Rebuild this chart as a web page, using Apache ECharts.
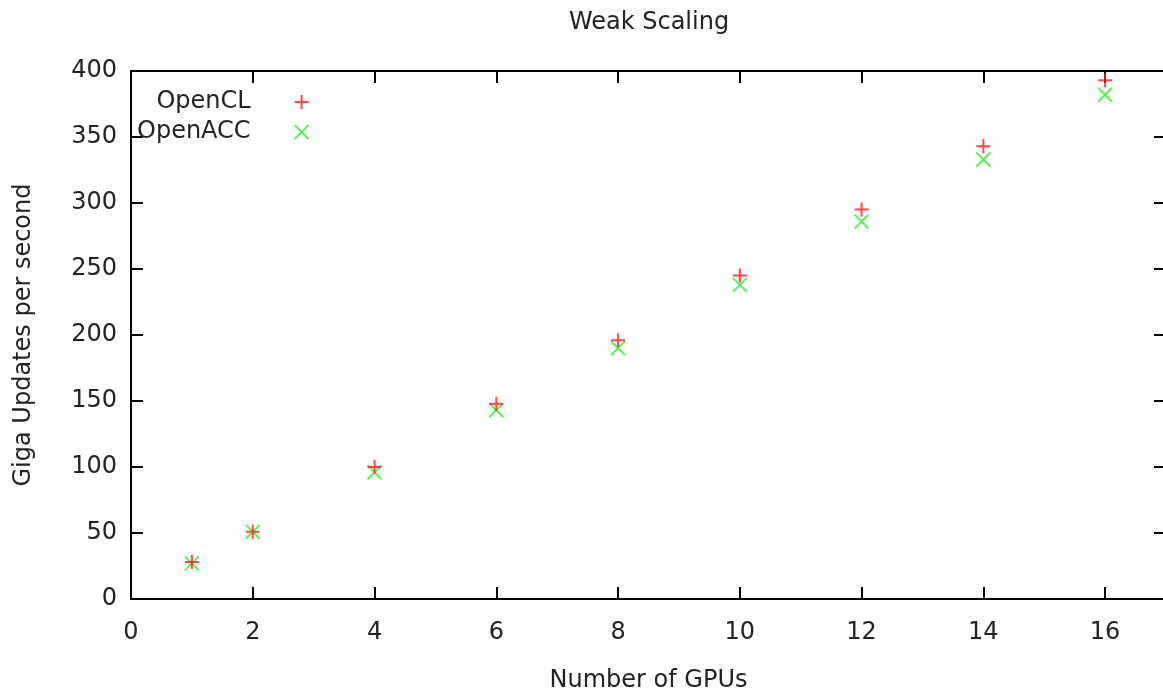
<!DOCTYPE html>
<html>
<head>
<meta charset="utf-8">
<script src="https://cdn.jsdelivr.net/npm/echarts@6/dist/echarts.min.js"></script>
<style>
  html, body { margin: 0; padding: 0; background: #fff; }
  #main { width: 1163px; height: 691px; }
</style>
</head>
<body>
<div id="main"></div>
<script>
// data
const gpus = [1, 2, 4, 6, 8, 10, 12, 14, 16];
const openCL = [28, 51, 100, 148, 196, 245, 295, 343, 393];
const openACC = [27, 51, 96, 143, 190, 238, 286, 333, 382];

const plusPath = 'path://M0,5L10,5M5,0L5,10';
const crossPath = 'path://M0,0L10,10M10,0L0,10';
const font = 'DejaVu Sans';
const fsize = 24;
const red = '#ff1a1a';
const green = '#33ee33';

const chart = echarts.init(document.getElementById('main'));

const pair = (xs, ys) => xs.map((x, i) => [x, ys[i]]);

// shared look of the 4 border axes (gnuplot style, ticks inside on every side)
const axisBase = {
  type: 'value',
  axisLine: { show: true, onZero: false, lineStyle: { color: '#000', width: 2 } },
  axisTick: { show: true, inside: true, length: 12, lineStyle: { color: '#000', width: 2 } },
  splitLine: { show: false },
};

const option = {
  animation: false,
  backgroundColor: '#fff',
  textStyle: { fontFamily: font },
  title: {
    text: 'Weak Scaling',
    left: 644,
    textAlign: 'center',
    top: 6,
    textStyle: { fontFamily: font, fontSize: fsize, fontWeight: 'normal', color: '#222' }
  },
  legend: {
    orient: 'vertical',
    left: 132,
    top: 85,
    align: 'right',
    itemWidth: 92,
    itemHeight: 14,
    itemGap: 6,
    textStyle: { fontFamily: font, fontSize: fsize, color: '#222', width: 120, align: 'right' },
    data: [
      { name: 'OpenCL', icon: plusPath, itemStyle: { color: 'none', borderColor: red, borderWidth: 2 } },
      { name: 'OpenACC', icon: crossPath, itemStyle: { color: 'none', borderColor: green, borderWidth: 2 } }
    ]
  },
  // right border sits just past the picture edge in the original
  grid: { left: 131, right: -3, top: 71, bottom: 92, outerBoundsMode: 'none' },
  xAxis: [
    Object.assign({}, axisBase, {
      position: 'bottom',
      min: 0, max: 17, interval: 2,
      name: 'Number of GPUs',
      nameLocation: 'middle',
      nameGap: 70,
      nameTextStyle: { fontFamily: font, fontSize: fsize, color: '#222' },
      axisLabel: {
        fontFamily: font, fontSize: fsize, color: '#222', margin: 22,
        formatter: v => (v > 16 ? '' : v)
      }
    }),
    Object.assign({}, axisBase, {
      position: 'top',
      min: 0, max: 17, interval: 2,
      axisLabel: { show: false }
    })
  ],
  yAxis: [
    Object.assign({}, axisBase, {
      position: 'left',
      min: 0, max: 400, interval: 50,
      name: 'Giga Updates per second',
      nameLocation: 'middle',
      nameGap: 95,
      nameTextStyle: { fontFamily: font, fontSize: fsize, color: '#222' },
      axisLabel: { fontFamily: font, fontSize: fsize, color: '#222', margin: 14 }
    }),
    Object.assign({}, axisBase, {
      position: 'right',
      min: 0, max: 400, interval: 50,
      axisLabel: { show: false }
    })
  ],
  series: [
    {
      name: 'OpenCL',
      type: 'scatter',
      data: pair(gpus, openCL),
      symbol: plusPath,
      symbolSize: 14,
      itemStyle: { color: 'none', borderColor: red, borderWidth: 2 },
      z: 3
    },
    {
      name: 'OpenACC',
      type: 'scatter',
      data: pair(gpus, openACC),
      symbol: crossPath,
      symbolSize: 14,
      itemStyle: { color: 'none', borderColor: green, borderWidth: 2 },
      z: 2
    }
  ]
};

chart.setOption(option);
</script>
</body>
</html>
